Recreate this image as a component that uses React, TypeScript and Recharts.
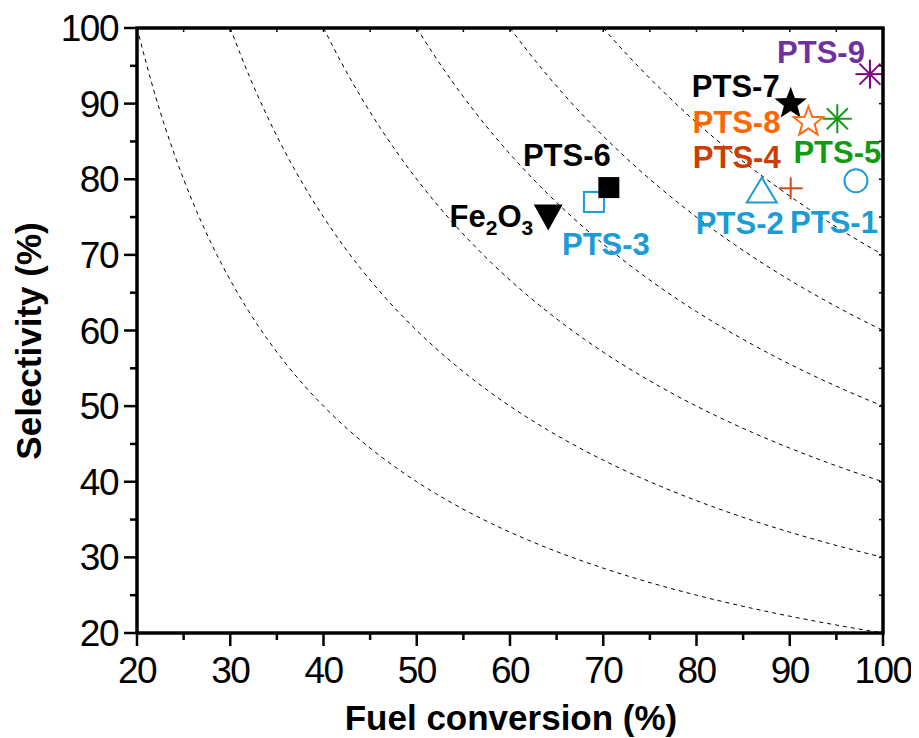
import React from 'react';
import { ComposedChart, Line, Scatter, XAxis, YAxis } from 'recharts';

// samples, fuel conversion (%) and selectivity (%)
const samples = ['PTS-1', 'PTS-2', 'PTS-3', 'PTS-4', 'PTS-5', 'PTS-6', 'PTS-7', 'PTS-8', 'PTS-9', 'Fe2O3'];
const conversion = [97.1, 87.0, 69.0, 90.1, 95.1, 70.6, 90.1, 92.0, 98.6, 64.1];
const selectivity = [79.8, 78.5, 77.0, 78.8, 88.0, 78.9, 90.1, 87.7, 93.9, 75.2];

// iso-yield guide curves (yield = conversion * selectivity / 100)
const yieldLevels = [20, 30, 40, 50, 60, 70];
const curveX = [
  20, 22, 24, 26, 28, 30, 32, 34, 36, 38, 40, 42, 44, 46, 48, 50, 52, 54, 56, 58, 60,
  62, 64, 66, 68, 70, 72, 74, 76, 78, 80, 82, 84, 86, 88, 90, 92, 94, 96, 98, 100,
];

const axisTicks = [20, 25, 30, 35, 40, 45, 50, 55, 60, 65, 70, 75, 80, 85, 90, 95, 100];
const AXIS_MIN = 20;
const AXIS_MAX = 100;

const W = 911;
const H = 730;
const MARGIN = { top: 20, right: 36, left: 0, bottom: 0 };
const Y_AXIS_W = 129;
const X_AXIS_H = 105;
const PLOT_W = W - MARGIN.left - MARGIN.right - Y_AXIS_W;
const PLOT_H = H - MARGIN.top - MARGIN.bottom - X_AXIS_H;

const BLUE = '#1a9cd8';
const FONT = '"Liberation Sans", Arial, sans-serif';

const markStyle: Record<string, any> = {
  'PTS-1': { marker: 'circle', color: BLUE, label: BLUE, dx: -22, dy: 52, anchor: 'middle' },
  'PTS-2': { marker: 'triangle', color: BLUE, label: BLUE, dx: -22, dy: 43, anchor: 'middle' },
  'PTS-3': { marker: 'openSquare', color: BLUE, label: BLUE, dx: 12, dy: 53, anchor: 'middle' },
  'PTS-4': { marker: 'plus', color: '#d9441a', label: '#cc3d00', dx: -10, dy: -20, anchor: 'end' },
  'PTS-5': { marker: 'asterisk', color: '#13991a', label: '#109c10', dx: 0, dy: 44, anchor: 'middle' },
  'PTS-6': { marker: 'square', color: '#000', label: '#000', dx: -42, dy: -22, anchor: 'middle' },
  'PTS-7': { marker: 'star', color: '#000', label: '#000', dx: -11, dy: -6, anchor: 'end' },
  'PTS-8': { marker: 'openStar', color: '#ff6a10', label: '#ff6600', dx: -28, dy: 12, anchor: 'end' },
  'PTS-9': { marker: 'asterisk', color: '#800080', label: '#7030a0', dx: -5, dy: -11, anchor: 'end' },
  Fe2O3: { marker: 'downTriangle', color: '#000', label: '#000', dx: -15, dy: 11, anchor: 'end' },
};

const starPoints = (cx: number, cy: number, r: number) => {
  const pts: string[] = [];
  for (let i = 0; i < 10; i++) {
    const rad = i % 2 === 0 ? r : r * 0.42;
    const a = -Math.PI / 2 + (i * Math.PI) / 5;
    pts.push(`${cx + rad * Math.cos(a)},${cy + rad * Math.sin(a)}`);
  }
  return pts.join(' ');
};

const drawMarker = (kind: string, cx: number, cy: number, color: string) => {
  switch (kind) {
    case 'circle':
      return <circle cx={cx} cy={cy} r={11.5} fill="none" stroke={color} strokeWidth={2} />;
    case 'triangle':
      return (
        <polygon
          points={`${cx},${cy - 13} ${cx + 15},${cy + 12} ${cx - 15},${cy + 12}`}
          fill="none"
          stroke={color}
          strokeWidth={2}
        />
      );
    case 'downTriangle':
      return <polygon points={`${cx - 14.5},${cy - 11} ${cx + 14.5},${cy - 11} ${cx},${cy + 15}`} fill={color} />;
    case 'openSquare':
      return <rect x={cx - 10} y={cy - 10} width={20} height={20} fill="none" stroke={color} strokeWidth={2} />;
    case 'square':
      return <rect x={cx - 10.5} y={cy - 10.5} width={21} height={21} fill={color} />;
    case 'plus':
      return (
        <g stroke={color} strokeWidth={2}>
          <line x1={cx - 12} x2={cx + 12} y1={cy} y2={cy} />
          <line x1={cx} x2={cx} y1={cy - 11} y2={cy + 11} />
        </g>
      );
    case 'asterisk':
      return (
        <g stroke={color} strokeWidth={2}>
          <line x1={cx - 14.5} x2={cx + 14.5} y1={cy} y2={cy} />
          <line x1={cx} x2={cx} y1={cy - 14.5} y2={cy + 14.5} />
          <line x1={cx - 10.5} x2={cx + 10.5} y1={cy - 10.5} y2={cy + 10.5} />
          <line x1={cx - 10.5} x2={cx + 10.5} y1={cy + 10.5} y2={cy - 10.5} />
        </g>
      );
    case 'star':
      return <polygon points={starPoints(cx, cy + 1, 17)} fill={color} />;
    case 'openStar':
      return <polygon points={starPoints(cx, cy + 1, 15.5)} fill="none" stroke={color} strokeWidth={2} />;
    default:
      return null;
  }
};

const drawLabel = (name: string, x: number, y: number, anchor: string, color: string) => {
  const common = { x, y, textAnchor: anchor as any, fill: color, fontFamily: FONT, fontWeight: 700, fontSize: 31 };
  if (name === 'Fe2O3') {
    return (
      <text {...common}>
        Fe
        <tspan fontSize={21} dy={8}>2</tspan>
        <tspan dy={-8}>O</tspan>
        <tspan fontSize={21} dy={8}>3</tspan>
      </text>
    );
  }
  return <text {...common}>{name}</text>;
};

const makeShape = (name: string) => (props: any) => {
  const { cx, cy } = props;
  const st = markStyle[name];
  return (
    <g>
      {drawMarker(st.marker, cx, cy, st.color)}
      {drawLabel(name, cx + st.dx, cy + st.dy, st.anchor, st.label)}
    </g>
  );
};

// bottom axis ticks, the matching inward tick on the top edge, and the right edge at the last tick
const BottomTick = (props: any) => {
  const { x, y, payload } = props;
  const major = payload.value % 10 === 0;
  const inner = payload.value !== AXIS_MIN && payload.value !== AXIS_MAX;
  return (
    <g>
      <line x1={x} x2={x} y1={y} y2={y + (major ? 13 : 7)} stroke="#000" strokeWidth={2.5} />
      {inner && <line x1={x} x2={x} y1={y - PLOT_H} y2={y - PLOT_H + 4} stroke="#000" strokeWidth={1.5} />}
      {payload.value === AXIS_MAX && (
        <path d={`M${x},${y + 1.5}V${y - PLOT_H}`} stroke="#000" strokeWidth={3} fill="none" />
      )}
      {major && (
        <text x={x} y={y + 50} textAnchor="middle" fontFamily={FONT} fontSize={37} letterSpacing={-1.5} fill="#000">
          {payload.value}
        </text>
      )}
    </g>
  );
};

// left axis ticks, the matching inward tick on the right edge, and the top edge at the last tick
const LeftTick = (props: any) => {
  const { x, y, payload } = props;
  const major = payload.value % 10 === 0;
  const inner = payload.value !== AXIS_MIN && payload.value !== AXIS_MAX;
  return (
    <g>
      <line x1={x} x2={x - (major ? 13 : 7)} y1={y} y2={y} stroke="#000" strokeWidth={2.5} />
      {inner && <line x1={x + PLOT_W} x2={x + PLOT_W - 4} y1={y} y2={y} stroke="#000" strokeWidth={1.5} />}
      {payload.value === AXIS_MAX && (
        <path d={`M${x - 1.5},${y}H${x + PLOT_W + 1.5}`} stroke="#000" strokeWidth={3} fill="none" />
      )}
      {major && (
        <text x={x - 19} y={y + 13} textAnchor="end" fontFamily={FONT} fontSize={37} letterSpacing={-1.5} fill="#000">
          {payload.value}
        </text>
      )}
    </g>
  );
};

export default function App() {
  const curves = yieldLevels.map((level) =>
    curveX.filter((x) => x >= level).map((x) => ({ x, y: (level * 100) / x }))
  );
  const points = samples.map((name, i) => ({ name, x: conversion[i], y: selectivity[i] }));
  const plotLeft = MARGIN.left + Y_AXIS_W;

  return (
    <ComposedChart width={W} height={H} margin={MARGIN}>
      <XAxis
        dataKey="x"
        type="number"
        domain={[AXIS_MIN, AXIS_MAX]}
        ticks={axisTicks}
        interval={0}
        allowDataOverflow
        height={X_AXIS_H}
        tickSize={0}
        tickMargin={0}
        tickLine={false}
        tick={<BottomTick />}
        axisLine={{ stroke: '#000', strokeWidth: 3 }}
      />
      <YAxis
        dataKey="y"
        type="number"
        domain={[AXIS_MIN, AXIS_MAX]}
        ticks={axisTicks}
        interval={0}
        allowDataOverflow
        width={Y_AXIS_W}
        tickSize={0}
        tickMargin={0}
        tickLine={false}
        tick={<LeftTick />}
        axisLine={{ stroke: '#000', strokeWidth: 3 }}
      />
      {curves.map((c, i) => (
        <Line
          key={`yield-${yieldLevels[i]}`}
          data={c}
          dataKey="y"
          type="monotone"
          dot={false}
          activeDot={false}
          stroke="#000"
          strokeWidth={1}
          strokeDasharray="4 4"
          isAnimationActive={false}
        />
      ))}
      {points.map((p) => (
        <Scatter key={p.name} data={[p]} shape={makeShape(p.name)} isAnimationActive={false} />
      ))}
      {/* plot frame */}
      <rect x={plotLeft} y={MARGIN.top} width={PLOT_W} height={PLOT_H} fill="none" stroke="#000" strokeWidth={3} />
      <text x={503} y={722} textAnchor="middle" fontFamily={FONT} fontWeight={700} fontSize={35} fill="#000">
        Fuel conversion (%)
      </text>
      <text
        x={33}
        y={333}
        transform="rotate(-90 33 333)"
        textAnchor="middle"
        fontFamily={FONT}
        fontWeight={700}
        fontSize={35}
        fill="#000"
      >
        Selectivity (%)
      </text>
    </ComposedChart>
  );
}
